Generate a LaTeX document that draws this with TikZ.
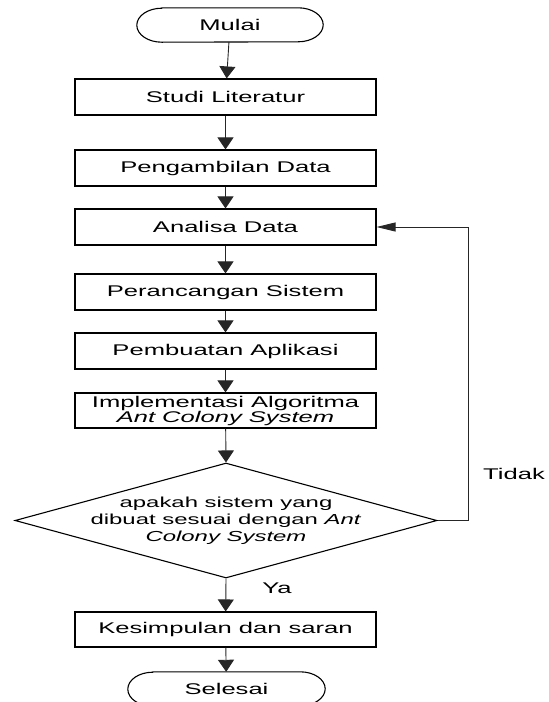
\documentclass[tikz,border=0pt]{standalone}
\usepackage{fontspec}
\setmainfont{Liberation Sans}[FakeStretch=1.65]
\usetikzlibrary{arrows.meta,shapes.geometric}

\tikzset{
  every node/.style={font=\fontsize{15.5}{15}\selectfont, text=black},
  shapeline/.style={draw=black, line width=1.1pt},
  procbox/.style={shapeline, rectangle, minimum width=301pt, minimum height=36pt, inner sep=0pt, align=center},
  termbox/.style={rectangle, minimum height=34pt, inner sep=0pt},
  decision/.style={shapeline, diamond, minimum width=422pt, minimum height=115pt, inner sep=0pt},
  flow/.style={draw=black!85, line width=0.9pt, -{Triangle[length=12pt,width=16pt]}},
  backflow/.style={draw=black!85, line width=0.9pt, -{Triangle[length=19pt,width=9pt]}},
  lbl/.style={inner sep=0pt}
}

% stadium outline with elliptic ends around a terminator node
\newcommand{\termoutline}[1]{%
  \draw[shapeline] ([xshift=25pt]#1.north west) -- ([xshift=-25pt]#1.north east)
    arc[start angle=90, end angle=-90, x radius=25pt, y radius=17pt]
    -- ([xshift=25pt]#1.south west)
    arc[start angle=270, end angle=90, x radius=25pt, y radius=17pt] -- cycle;}

\begin{document}
\begin{tikzpicture}[x=1pt, y=-1pt]
  \useasboundingbox (0,0) rectangle (549,702);

  \node[termbox, minimum width=186pt] (mulai) at (230,25) {Mulai};
  \termoutline{mulai}

  \node[procbox] (studi)   at (225.5,97)  {Studi Literatur};
  \node[procbox] (ambil)   at (225.5,168) {Pengambilan Data};
  \node[procbox] (analisa) at (225.5,227) {Analisa Data};
  \node[procbox] (rancang) at (225.5,292) {Perancangan Sistem};
  \node[procbox] (buat)    at (225.5,351) {Pembuatan Aplikasi};
  \node[procbox, minimum height=35pt] (impl) at (225.5,410.5)
    {Implementasi Algoritma\\ \textit{Ant Colony System}};

  \node[decision] (dec) at (226,520.5) {};
  \node[align=center, inner sep=0pt, font=\fontsize{14.5}{17}\selectfont] (dectext) at (226,520.5)
    {apakah sistem yang\\ dibuat sesuai dengan \textit{Ant}\\ \textit{Colony System}};

  \node[procbox, minimum height=35pt] (simpul) at (225.5,629.5) {Kesimpulan dan saran};

  \node[termbox, minimum width=197pt] (selesai) at (226.5,689) {Selesai};
  \termoutline{selesai}

  \draw[flow] (mulai) -- (studi);
  \draw[flow] (studi) -- (ambil);
  \draw[flow] (ambil) -- (analisa);
  \draw[flow] (analisa) -- (rancang);
  \draw[flow] (rancang) -- (buat);
  \draw[flow] (buat) -- (impl);
  \draw[flow] (impl) -- (dec.north);
  \draw[flow] (dec.south) -- (simpul);
  \draw[flow] (simpul) -- (selesai);

  \coordinate (fb) at (468,227);
  \draw[backflow] (dec.east) -| (fb) -- (analisa.east);

  \node[lbl] (ya) at (277,588) {Ya};
  \node[lbl] (tidak) at (514,474) {Tidak};
\end{tikzpicture}
\end{document}
